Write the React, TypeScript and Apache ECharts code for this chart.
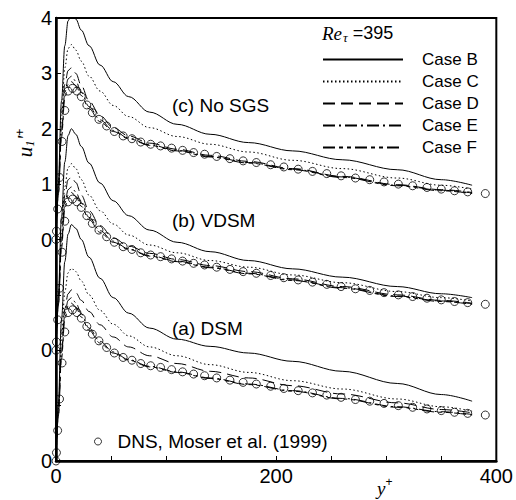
import React, { useEffect, useRef } from "react";
import * as echarts from "echarts";

// y+ positions of the LES profiles
const X_LES = [0, 2, 5, 8, 11, 14, 18, 23, 30, 40, 52, 66, 85, 110, 140, 175, 215, 260, 310, 350, 378];

// (c) No SGS
const NOSGS_B = [0, 1.0, 2.5, 3.5, 3.95, 4.08, 3.98, 3.78, 3.5, 3.15, 2.85, 2.58, 2.3, 2.08, 1.9, 1.75, 1.6, 1.44, 1.26, 1.08, 0.98];
const NOSGS_C = [0, 0.9, 2.2, 3.1, 3.45, 3.52, 3.42, 3.22, 2.95, 2.68, 2.42, 2.22, 2.02, 1.86, 1.72, 1.58, 1.43, 1.28, 1.11, 0.98, 0.91];
const NOSGS_D = [0, 0.85, 2.0, 2.8, 3.05, 3.1, 3.0, 2.78, 2.5, 2.24, 2.02, 1.87, 1.74, 1.63, 1.52, 1.41, 1.28, 1.14, 0.99, 0.9, 0.85];
const NOSGS_E = [0, 0.8, 1.9, 2.65, 2.9, 2.95, 2.86, 2.66, 2.4, 2.16, 1.97, 1.83, 1.71, 1.61, 1.5, 1.39, 1.27, 1.13, 0.98, 0.89, 0.84];
const NOSGS_F = [0, 0.78, 1.85, 2.55, 2.8, 2.85, 2.78, 2.6, 2.36, 2.13, 1.95, 1.82, 1.7, 1.6, 1.49, 1.38, 1.26, 1.12, 0.97, 0.88, 0.83];

// (b) VDSM
const VDSM_B = [0, 0.95, 2.4, 3.4, 3.88, 4.0, 3.9, 3.68, 3.38, 3.02, 2.7, 2.43, 2.17, 1.95, 1.78, 1.62, 1.47, 1.32, 1.15, 1.02, 0.95];
const VDSM_C = [0, 0.88, 2.1, 2.95, 3.3, 3.37, 3.28, 3.08, 2.8, 2.52, 2.28, 2.08, 1.9, 1.76, 1.62, 1.5, 1.36, 1.22, 1.06, 0.95, 0.89];
const VDSM_D = [0, 0.85, 2.0, 2.8, 3.08, 3.13, 3.03, 2.8, 2.52, 2.25, 2.03, 1.88, 1.75, 1.64, 1.53, 1.42, 1.29, 1.15, 1.0, 0.9, 0.85];
const VDSM_E = [0, 0.8, 1.9, 2.65, 2.9, 2.95, 2.86, 2.66, 2.4, 2.16, 1.97, 1.83, 1.71, 1.61, 1.5, 1.39, 1.27, 1.13, 0.98, 0.89, 0.84];
const VDSM_F = [0, 0.78, 1.85, 2.55, 2.8, 2.85, 2.78, 2.6, 2.36, 2.13, 1.95, 1.82, 1.7, 1.6, 1.49, 1.38, 1.26, 1.12, 0.97, 0.88, 0.83];

// (a) DSM
const DSM_B = [0, 1.0, 2.55, 3.6, 4.1, 4.27, 4.2, 4.0, 3.68, 3.3, 2.95, 2.67, 2.4, 2.2, 2.07, 1.95, 1.8, 1.62, 1.4, 1.2, 1.08];
const DSM_C = [0, 0.9, 2.2, 3.05, 3.4, 3.48, 3.42, 3.25, 3.0, 2.72, 2.47, 2.26, 2.06, 1.9, 1.74, 1.6, 1.45, 1.3, 1.12, 0.98, 0.9];
const DSM_D = [0, 0.85, 2.0, 2.75, 3.02, 3.09, 3.04, 2.9, 2.7, 2.46, 2.24, 2.06, 1.9, 1.76, 1.62, 1.5, 1.36, 1.21, 1.05, 0.93, 0.87];
const DSM_E = [0, 0.8, 1.9, 2.65, 2.9, 2.95, 2.86, 2.66, 2.4, 2.16, 1.97, 1.83, 1.71, 1.61, 1.5, 1.39, 1.27, 1.13, 0.98, 0.89, 0.84];
const DSM_F = [0, 0.78, 1.85, 2.55, 2.8, 2.85, 2.78, 2.6, 2.36, 2.13, 1.95, 1.82, 1.7, 1.6, 1.49, 1.38, 1.26, 1.12, 0.97, 0.88, 0.83];

// DNS, Moser et al. (1999)
const DNS_X = [0, 0.4, 1.5, 3.2, 5.5, 8, 11, 15, 19, 23, 28, 33, 39, 46, 53, 61, 69, 77, 86, 95, 105, 115, 125, 135, 146, 158, 170, 182, 195, 207, 220, 233, 246, 259, 272, 285, 298, 311, 324, 337, 350, 362, 374, 390];
const DNS_U = [0, 0.15, 0.55, 1.12, 1.77, 2.33, 2.68, 2.73, 2.68, 2.58, 2.43, 2.29, 2.17, 2.05, 1.95, 1.87, 1.82, 1.76, 1.72, 1.69, 1.65, 1.61, 1.57, 1.54, 1.5, 1.46, 1.42, 1.39, 1.35, 1.31, 1.27, 1.23, 1.19, 1.15, 1.11, 1.08, 1.04, 1.0, 0.97, 0.94, 0.91, 0.88, 0.86, 0.83];

const CASE_NAMES = ["Case B", "Case C", "Case D", "Case E", "Case F"];
const PANEL_LABELS = ["(a) DSM", "(b) VDSM", "(c) No SGS"];
const PANEL_OFFSETS = [0, 2, 4];
const Y_TICK_LABELS = ["0", "", "0", "", "0", "1", "2", "3", "4"];
const X_TICK_LABELS: Record<number, string> = { 0: "0", 200: "200", 400: "400" };
const DNS_NAME = "DNS, Moser et al. (1999)";

const PANELS = [
  [DSM_B, DSM_C, DSM_D, DSM_E, DSM_F],
  [VDSM_B, VDSM_C, VDSM_D, VDSM_E, VDSM_F],
  [NOSGS_B, NOSGS_C, NOSGS_D, NOSGS_E, NOSGS_F],
];

const DASHES: any[] = ["solid", [1.5, 2.5], [12, 6], [12, 4, 2, 4], [12, 4, 4, 4, 4, 4]];

const FONT = "Liberation Sans, Arial, sans-serif";
const SERIF = "Liberation Serif, Times New Roman, serif";

export default function App() {
  const ref = useRef<HTMLDivElement>(null);
  useEffect(() => {
    if (!ref.current) return;
    const chart = echarts.init(ref.current, undefined, { renderer: "svg" });
    const series: any[] = [];
    PANELS.forEach((cases, p) => {
      cases.forEach((vals, c) => {
        series.push({
          type: "line",
          name: CASE_NAMES[c],
          data: X_LES.map((x, i) => [x, vals[i] + PANEL_OFFSETS[p]]),
          showSymbol: false,
          symbol: "none",
          smooth: 0.35,
          smoothMonotone: "x",
          lineStyle: { color: "#000", width: 1, type: DASHES[c] },
          itemStyle: { color: "#000" },
          z: 2,
        });
      });
    });
    PANEL_OFFSETS.forEach((off) => {
      series.push({
        type: "scatter",
        name: DNS_NAME,
        data: DNS_X.map((x, i) => [x, DNS_U[i] + off]),
        symbol: "circle",
        symbolSize: 8,
        itemStyle: { color: "rgba(255,255,255,0)", borderColor: "#000", borderWidth: 1 },
        z: 3,
      });
    });

    chart.setOption({
      animation: false,
      grid: { left: 56, right: 19, top: 18, bottom: 39, show: true, borderColor: "#000", borderWidth: 2 },
      xAxis: {
        type: "value",
        min: 0,
        max: 400,
        interval: 50,
        axisLine: { lineStyle: { color: "#000", width: 2.5 } },
        axisTick: { inside: true, length: 5, lineStyle: { color: "#000", width: 1 } },
        splitLine: { show: false },
        axisLabel: {
          color: "#000",
          fontSize: 20,
          fontFamily: FONT,
          margin: 5,
          formatter: (v: number) => X_TICK_LABELS[v] ?? "",
        },
      },
      yAxis: {
        type: "value",
        min: 0,
        max: 8,
        interval: 1,
        axisLine: { lineStyle: { color: "#000", width: 2.5 } },
        axisTick: { inside: true, length: 5, lineStyle: { color: "#000", width: 1 } },
        splitLine: { show: false },
        axisLabel: {
          color: "#000",
          fontSize: 20,
          fontFamily: FONT,
          margin: 4,
          formatter: (v: number) => Y_TICK_LABELS[Math.round(v)] ?? "",
        },
      },
      legend: [
        {
          data: CASE_NAMES,
          orient: "vertical",
          left: 322,
          top: 51,
          padding: 0,
          itemWidth: 80,
          itemHeight: 14,
          itemGap: 5,
          itemStyle: { color: "rgba(0,0,0,0)", borderWidth: 0, opacity: 0 },
          textStyle: { fontSize: 17, fontFamily: FONT, color: "#000", padding: [0, 0, 0, 14], lineHeight: 14 },
          selectedMode: false,
        },
        {
          data: [DNS_NAME],
          left: 94,
          top: 432,
          padding: 0,
          itemWidth: 7,
          itemHeight: 7,
          itemStyle: { color: "#fff", borderColor: "#000", borderWidth: 1 },
          textStyle: { fontSize: 19, fontFamily: FONT, color: "#000", padding: [0, 0, 0, 11] },
          selectedMode: false,
        },
      ],
      graphic: [
        {
          type: "text",
          x: 322,
          y: 33,
          style: {
            text: "{it|Re}{sub|τ}{n| =395}",
            verticalAlign: "middle",
            rich: {
              it: { fontFamily: SERIF, fontStyle: "italic", fontSize: 19, fill: "#000" },
              sub: { fontFamily: SERIF, fontStyle: "italic", fontSize: 13, fill: "#000", padding: [8, 0, 0, 1] },
              n: { fontFamily: FONT, fontSize: 18, fill: "#000" },
            },
          },
        },
        ...PANEL_LABELS.map((t, i) => ({
          type: "text",
          x: 172,
          y: [328, 220, 105][i],
          style: { text: t, fontFamily: FONT, fontSize: 19, fill: "#000", verticalAlign: "middle" },
        })),
        {
          type: "text",
          x: 377,
          y: 486,
          style: {
            text: "{it|y}{sup|+}",
            verticalAlign: "middle",
            rich: {
              it: { fontFamily: SERIF, fontStyle: "italic", fontSize: 19, fill: "#000", padding: [4, 0, 0, 0] },
              sup: { fontFamily: FONT, fontSize: 12, fill: "#000", padding: [0, 0, 8, 0] },
            },
          },
        },
        {
          type: "text",
          x: 25,
          y: 143,
          rotation: Math.PI / 2,
          style: {
            text: "{it|u}{sub|1}{it|'}{sup|+}",
            align: "center",
            verticalAlign: "middle",
            rich: {
              it: { fontFamily: SERIF, fontStyle: "italic", fontSize: 21, fill: "#000" },
              sub: { fontFamily: SERIF, fontStyle: "italic", fontSize: 13, fill: "#000", padding: [8, 0, 0, 0] },
              sup: { fontFamily: FONT, fontSize: 12, fill: "#000", padding: [0, 0, 10, 0] },
            },
          },
        },
      ],
      series,
    });
    return () => chart.dispose();
  }, []);
  return <div ref={ref} style={{ position: "absolute", left: 0, top: 0, width: 516, height: 500 }} />;
}
